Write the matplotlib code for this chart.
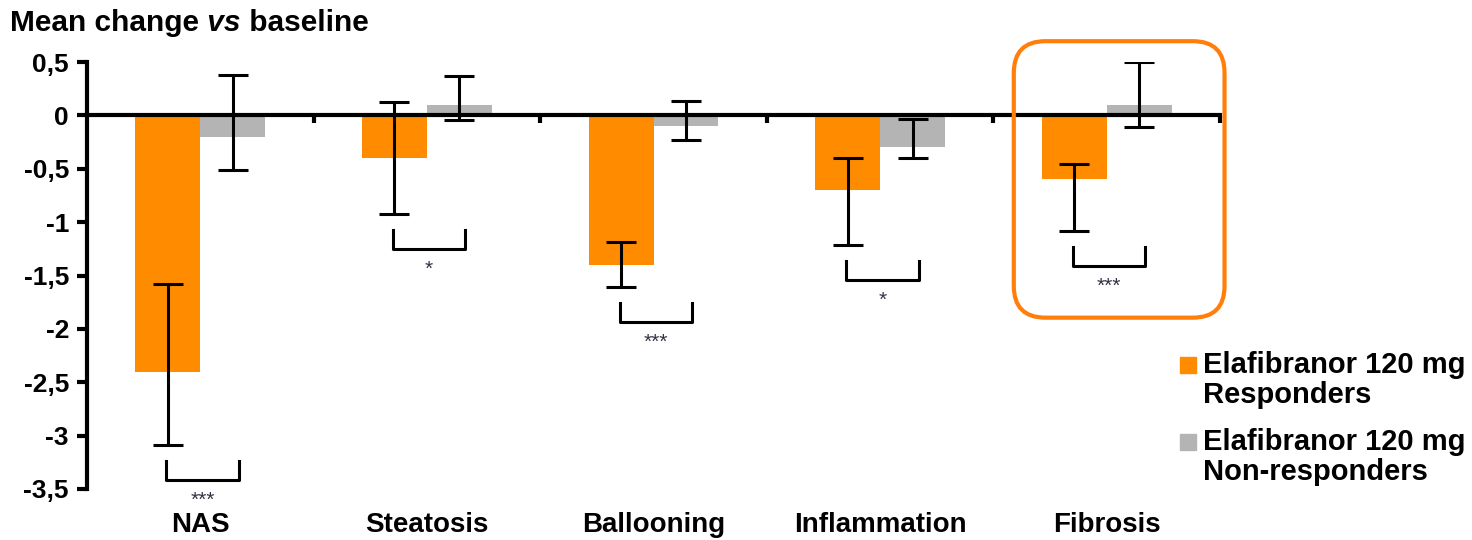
import matplotlib.pyplot as plt
import matplotlib.patches as mpatches
import numpy as np

plt.rcParams['font.family'] = ['Liberation Sans', 'DejaVu Sans']

# data
categories = ['NAS', 'Steatosis', 'Ballooning', 'Inflammation', 'Fibrosis']
responders = [-2.4, -0.4, -1.4, -0.7, -0.6]
responders_low = [-3.09, -0.92, -1.61, -1.21, -1.085]
responders_high = [-1.58, 0.125, -1.19, -0.40, -0.46]
non_responders = [-0.2, 0.1, -0.1, -0.3, 0.1]
non_responders_low = [-0.516, -0.047, -0.23, -0.40, -0.11]
non_responders_high = [0.375, 0.37, 0.134, -0.03, 0.50]
significance = ['***', '*', '***', '*', '***']
yticks = [0.5, 0, -0.5, -1, -1.5, -2, -2.5, -3, -3.5]
ytick_labels = ['0,5', '0', '-0,5', '-1', '-1,5', '-2', '-2,5', '-3', '-3,5']
legend_labels = [('Elafibranor 120 mg', 'Responders'),
                 ('Elafibranor 120 mg', 'Non-responders')]
highlight = 'Fibrosis'

orange = '#FF8C00'
grey = '#B4B4B4'
box_orange = '#FF7F0A'

W, H = 1472, 540
fig = plt.figure(figsize=(W / 100, H / 100), dpi=100)
ax = fig.add_axes([87 / W, 1 - 489 / H, (1220 - 87) / W, (489 - 62) / H])

x = np.arange(len(categories))
bw = 0.286
r = np.array(responders)
n = np.array(non_responders)

ax.bar(x - bw / 2, r, bw, color=orange, zorder=2)
ax.bar(x + bw / 2, n, bw, color=grey, zorder=2)

err_kw = dict(fmt='none', ecolor='black', elinewidth=2.2, capsize=11, capthick=2.2, zorder=4)
ax.errorbar(x - bw / 2, r, yerr=[r - np.array(responders_low), np.array(responders_high) - r], **err_kw)
ax.errorbar(x + bw / 2, n, yerr=[n - np.array(non_responders_low), np.array(non_responders_high) - n], **err_kw)

ax.set_xlim(-0.5, len(categories) - 0.5)
ax.set_ylim(-3.5, 0.5)

for s in ['top', 'right']:
    ax.spines[s].set_visible(False)
ax.spines['bottom'].set_position(('data', 0))
ax.spines['bottom'].set_linewidth(3)
ax.spines['left'].set_linewidth(3)
ax.spines['bottom'].set_zorder(3)

ax.set_xticks(x + 0.5)
ax.set_xticklabels([])
ax.tick_params(axis='x', direction='out', length=6, width=3)
ax.set_yticks(yticks, ytick_labels)
ax.tick_params(axis='y', direction='out', length=7, width=3, pad=6, labelsize=19)
for lbl in ax.get_yticklabels():
    lbl.set_fontweight('bold')

# category names under the axes
for i, c in enumerate(categories):
    ax.text(i, -0.084, c, transform=ax.get_xaxis_transform(), ha='center', va='center',
            fontsize=20, fontweight='bold')

# significance brackets
for i, s in enumerate(significance):
    top = min(responders_low[i], non_responders_low[i]) - 0.15
    bot = top - 0.18
    ax.plot([i - 0.15, i - 0.15, i + 0.17, i + 0.17], [top, bot, bot, top],
            color='black', lw=2.2, clip_on=False, zorder=4)
    ax.text(i + 0.01, bot - 0.19, s, ha='center', va='center', fontsize=15,
            color='#333344', clip_on=False)

# rounded box around the highlighted category
fig.canvas.draw()
bb = ax.get_window_extent()
aspect = (bb.width / len(categories)) / (bb.height / 4.0)
k = categories.index(highlight)
box = mpatches.FancyBboxPatch((k - 0.41, -1.895), 0.93, 2.59,
                              boxstyle='round,pad=0,rounding_size=0.14',
                              mutation_aspect=aspect, transform=ax.transData,
                              fill=False, edgecolor=box_orange, lw=3, clip_on=False, zorder=5)
ax.add_patch(box)

# title with italic "vs"
ty = 1 - 31 / H
t1 = fig.text(10 / W, ty, 'Mean change', fontsize=21.5, fontweight='bold', va='baseline')
fig.canvas.draw()
e1 = t1.get_window_extent()
t2 = fig.text(e1.x1 / W, ty, ' vs', fontsize=21.5, fontweight='bold', fontstyle='italic', va='baseline')
fig.canvas.draw()
e2 = t2.get_window_extent()
fig.text(e2.x1 / W, ty, ' baseline', fontsize=21.5, fontweight='bold', va='baseline')

# legend drawn by hand, square next to first line
for (l1, l2), col, y0 in zip(legend_labels, [orange, grey], [365, 442]):
    fig.patches.append(mpatches.Rectangle((1180 / W, 1 - (y0 + 8) / H), 16 / W, 16 / H,
                                          transform=fig.transFigure, color=col, figure=fig))
    fig.text(1203 / W, 1 - y0 / H, l1, fontsize=21, fontweight='bold', va='center')
    fig.text(1203 / W, 1 - (y0 + 30) / H, l2, fontsize=21, fontweight='bold', va='center')

fig.savefig('out.png', dpi=100)
